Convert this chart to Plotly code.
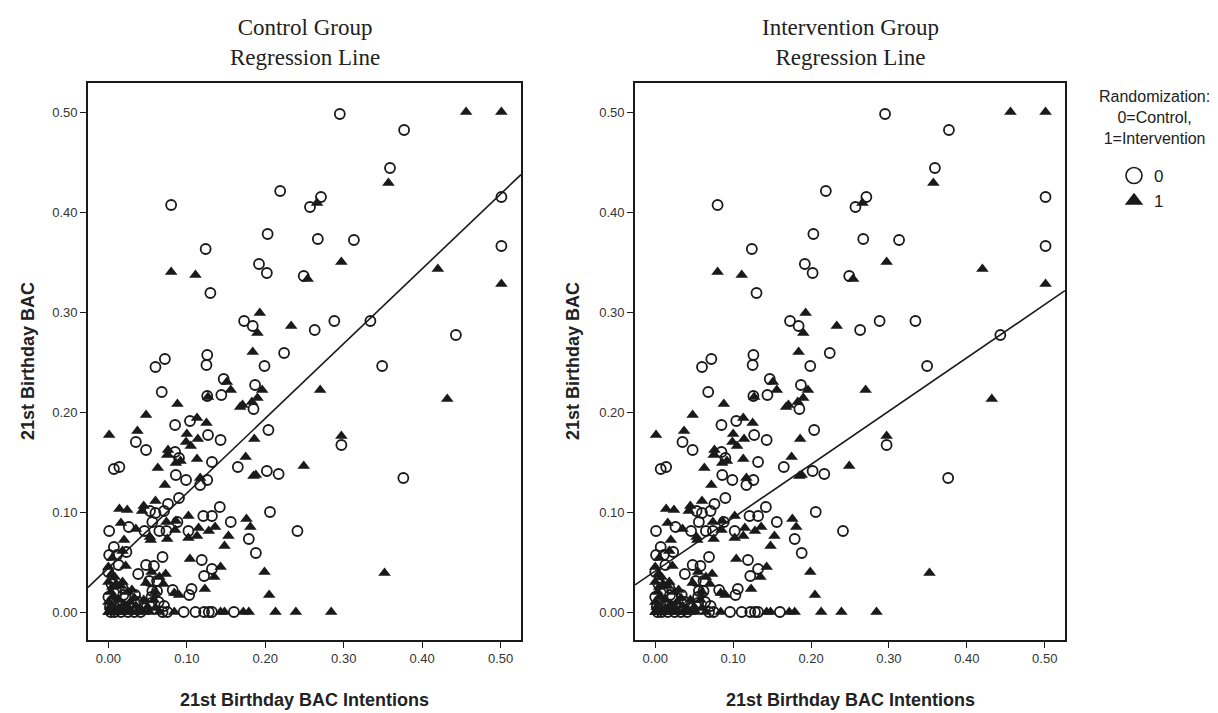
import plotly.graph_objects as go

# ---- data: group 0 (Control) ----
control_x = [0.295,0.377,0.359,0.501,0.501,0.080,0.219,0.257,0.271,0.203,0.267,0.313,0.124,0.192,0.202,0.249,0.130,0.173,0.184,0.263,0.288,0.334,0.443,0.126,0.072,0.224,0.060,0.125,0.199,0.349,
             0.068,0.147,0.187,0.126,0.144,0.185,0.204,0.085,0.104,0.127,0.143,0.035,0.048,0.007,0.014,0.085,0.090,0.086,0.099,0.132,0.126,0.117,0.165,0.202,0.217,0.297,0.376,
             0.090,0.076,0.142,0.121,0.132,0.156,0.206,0.241,0.001,0.026,0.046,0.053,0.060,0.071,0.056,0.065,0.074,0.088,0.102,0.179,0.188,0.007,0.001,0.011,0.023,0.013,0.048,0.058,0.069,0.038,0.119,0.132,0.122,0.052,0.062,0.056,0.062,0.082,0.106,0.103,0.019,0.034,0.055,0.071,
             0.003,0.016,0.033,0.041,0.069,0.075,0.096,0.111,0.122,0.128,0.132,0.160,
             0.002,0.000,0.004,0.000,0.010,0.015,0.022,0.030,0.038,0.055,0.008,0.025,0.006,0.018,0.044,0.064]
control_y = [0.498,0.482,0.444,0.415,0.366,0.407,0.421,0.405,0.415,0.378,0.373,0.372,0.363,0.348,0.339,0.336,0.319,0.291,0.286,0.282,0.291,0.291,0.277,0.257,0.253,0.259,0.245,0.247,0.246,0.246,
             0.220,0.233,0.227,0.216,0.217,0.203,0.182,0.187,0.191,0.177,0.172,0.170,0.162,0.143,0.145,0.160,0.154,0.137,0.132,0.150,0.132,0.127,0.145,0.141,0.138,0.167,0.134,
             0.114,0.108,0.105,0.096,0.096,0.090,0.100,0.081,0.081,0.085,0.081,0.101,0.099,0.101,0.090,0.081,0.081,0.090,0.081,0.073,0.059,0.065,0.057,0.057,0.060,0.047,0.047,0.046,0.055,0.038,0.052,0.043,0.036,0.031,0.031,0.021,0.021,0.022,0.023,0.017,0.017,0.017,0.009,0.006,
             0.000,0.000,0.000,0.000,0.000,0.000,0.000,0.000,0.000,0.000,0.000,0.000,
             0.005,0.015,0.028,0.040,0.020,0.008,0.015,0.004,0.010,0.015,0.000,0.000,0.012,0.024,0.004,0.010]

# ---- data: group 1 (Intervention) ----
interv_x = [0.456,0.501,0.357,0.266,0.080,0.111,0.297,0.254,0.420,0.501,0.193,0.233,0.190,0.184,
            0.270,0.432,0.297,0.249,0.352,0.088,0.048,0.037,0.001,0.151,0.156,0.196,0.190,0.127,0.171,0.168,0.183,0.113,0.125,0.100,0.114,0.099,0.105,0.076,0.075,0.086,0.092,0.113,0.063,0.186,0.175,0.185,0.188,0.117,0.072,
            0.014,0.024,0.045,0.043,0.060,0.016,0.035,0.053,0.054,0.074,0.075,0.086,0.085,0.102,0.102,0.115,0.113,0.128,0.136,0.153,0.148,0.176,0.181,0.020,0.018,0.005,0.022,0.104,0.143,0.135,0.073,0.199,0.123,0.205,0.090,0.084,0.048,0.016,
            0.213,0.239,0.284,0.179,0.172,0.148,0.143,0.084,0.052,0.037,0.016,0.001,
            0.000,0.005,0.010,0.020,0.025,0.030,0.045,0.000,0.003,0.000,0.008,0.000,0.012,0.020,0.028,0.035,0.045,0.050,0.060,0.065,0.005,0.018,0.025,0.030,0.060,0.065,0.070,0.055,
            0.002,0.007,0.013,0.004,0.010,0.024,0.033,0.040,0.058]
interv_y = [0.500,0.500,0.429,0.409,0.340,0.337,0.350,0.333,0.343,0.328,0.299,0.286,0.279,0.260,
            0.222,0.213,0.176,0.146,0.039,0.208,0.197,0.181,0.177,0.230,0.222,0.222,0.214,0.215,0.207,0.205,0.210,0.194,0.189,0.178,0.173,0.170,0.166,0.162,0.157,0.149,0.151,0.153,0.144,0.173,0.155,0.136,0.137,0.134,0.127,
            0.103,0.102,0.106,0.101,0.111,0.089,0.083,0.075,0.072,0.090,0.073,0.091,0.082,0.096,0.074,0.084,0.076,0.081,0.085,0.076,0.066,0.093,0.085,0.072,0.061,0.054,0.046,0.053,0.045,0.035,0.038,0.040,0.023,0.017,0.017,0.019,0.029,0.026,
            0.000,0.000,0.000,0.000,0.000,0.000,0.000,0.000,0.000,0.000,0.000,0.000,
            0.000,0.000,0.000,0.000,0.002,0.000,0.000,0.010,0.020,0.030,0.035,0.045,0.012,0.008,0.010,0.006,0.012,0.005,0.004,0.000,0.025,0.030,0.020,0.022,0.020,0.035,0.028,0.040,
            0.005,0.015,0.004,0.038,0.028,0.006,0.014,0.004,0.012]

# regression lines (intercept, slope)
control_line = (0.044, 0.748)
interv_line = (0.041, 0.533)

tick_vals = [0.0, 0.1, 0.2, 0.3, 0.4, 0.5]
x_range = [-0.026, 0.526]
y_range = [-0.028, 0.529]

panel_titles = ["Control Group<br>Regression Line", "Intervention Group<br>Regression Line"]
x_title = "21st Birthday BAC Intentions"
y_title = "21st Birthday BAC"
legend_title = "Randomization:<br>0=Control,<br>1=Intervention"

W, H = 1218, 713
SANS = "Liberation Sans, Arial, sans-serif"
SERIF = "Liberation Serif, Times New Roman, serif"
INK = "#1a1a1a"

fig = go.Figure()

panels = [("x", "y", control_line), ("x2", "y2", interv_line)]
for i, (xa, ya, (a, b)) in enumerate(panels):
    fig.add_trace(go.Scatter(x=control_x, y=control_y, mode="markers", xaxis=xa, yaxis=ya,
                             marker=dict(symbol="circle-open", size=10, color=INK, line=dict(width=1.8, color=INK)),
                             showlegend=False, hoverinfo="x+y"))
    fig.add_trace(go.Scatter(x=interv_x, y=interv_y, mode="markers", xaxis=xa, yaxis=ya,
                             marker=dict(symbol="triangle-up", size=11, color=INK, line=dict(width=0)),
                             showlegend=False, hoverinfo="x+y"))
    fig.add_trace(go.Scatter(x=x_range, y=[a + b * v for v in x_range], mode="lines",
                             xaxis=xa, yaxis=ya, line=dict(color=INK, width=1.6),
                             showlegend=False, hoverinfo="skip"))

# legend-only entries
fig.add_trace(go.Scatter(x=[None], y=[None], mode="markers", name="0",
                         marker=dict(symbol="circle-open", size=16, color=INK, line=dict(width=1.6, color=INK))))
fig.add_trace(go.Scatter(x=[None], y=[None], mode="markers", name="1",
                         marker=dict(symbol="triangle-up", size=16, color=INK)))

ydom = [1 - 632 / H, 1 - 75 / H]
xdoms = [[80 / W, 513 / W], [627 / W, 1057 / W]]

axis_common = dict(range=x_range, tickvals=tick_vals, tickformat=".2f", ticks="outside", ticklen=6,
                   tickwidth=1.3, tickcolor=INK, showline=True, linecolor=INK, linewidth=1.6, mirror=True,
                   showgrid=False, zeroline=False, tickfont=dict(family=SANS, size=13, color="#333"))
yaxis_common = dict(axis_common)
yaxis_common["range"] = y_range

fig.update_layout(
    width=W, height=H, margin=dict(l=0, r=0, t=0, b=0),
    paper_bgcolor="white", plot_bgcolor="white",
    xaxis=dict(axis_common, domain=xdoms[0], anchor="y"),
    yaxis=dict(yaxis_common, domain=ydom, anchor="x"),
    xaxis2=dict(axis_common, domain=xdoms[1], anchor="y2"),
    yaxis2=dict(yaxis_common, domain=ydom, anchor="x2"),
    legend=dict(x=1106 / W, y=1 - 150 / H, xanchor="left", yanchor="top",
                font=dict(family=SANS, size=17, color="#222"), bgcolor="rgba(0,0,0,0)",
                tracegroupgap=0, itemwidth=30),
)

ann = []
centers = [(80 + 513) / 2, (627 + 1057) / 2]
for i, c in enumerate(centers):
    ann.append(dict(x=c / W, y=1 - 5 / H, xref="paper", yref="paper", xanchor="center", yanchor="top",
                    text=panel_titles[i], showarrow=False,
                    font=dict(family=SERIF, size=23, color="#222"), align="center"))
    ann.append(dict(x=c / W, y=1 - 692 / H, xref="paper", yref="paper", xanchor="center", yanchor="middle",
                    text="<b>" + x_title + "</b>", showarrow=False,
                    font=dict(family=SANS, size=18, color="#222")))
yx = [20, 565]
for xx in yx:
    ann.append(dict(x=xx / W, y=1 - 353 / H, xref="paper", yref="paper", xanchor="center", yanchor="middle",
                    text="<b>" + y_title + "</b>", showarrow=False, textangle=-90,
                    font=dict(family=SANS, size=18, color="#222")))
ann.append(dict(x=1146 / W, y=1 - 78 / H, xref="paper", yref="paper", xanchor="center", yanchor="top",
                text=legend_title, showarrow=False, align="center",
                font=dict(family=SANS, size=16, color="#222")))
fig.update_layout(annotations=ann)

fig.write_html("out.html")
